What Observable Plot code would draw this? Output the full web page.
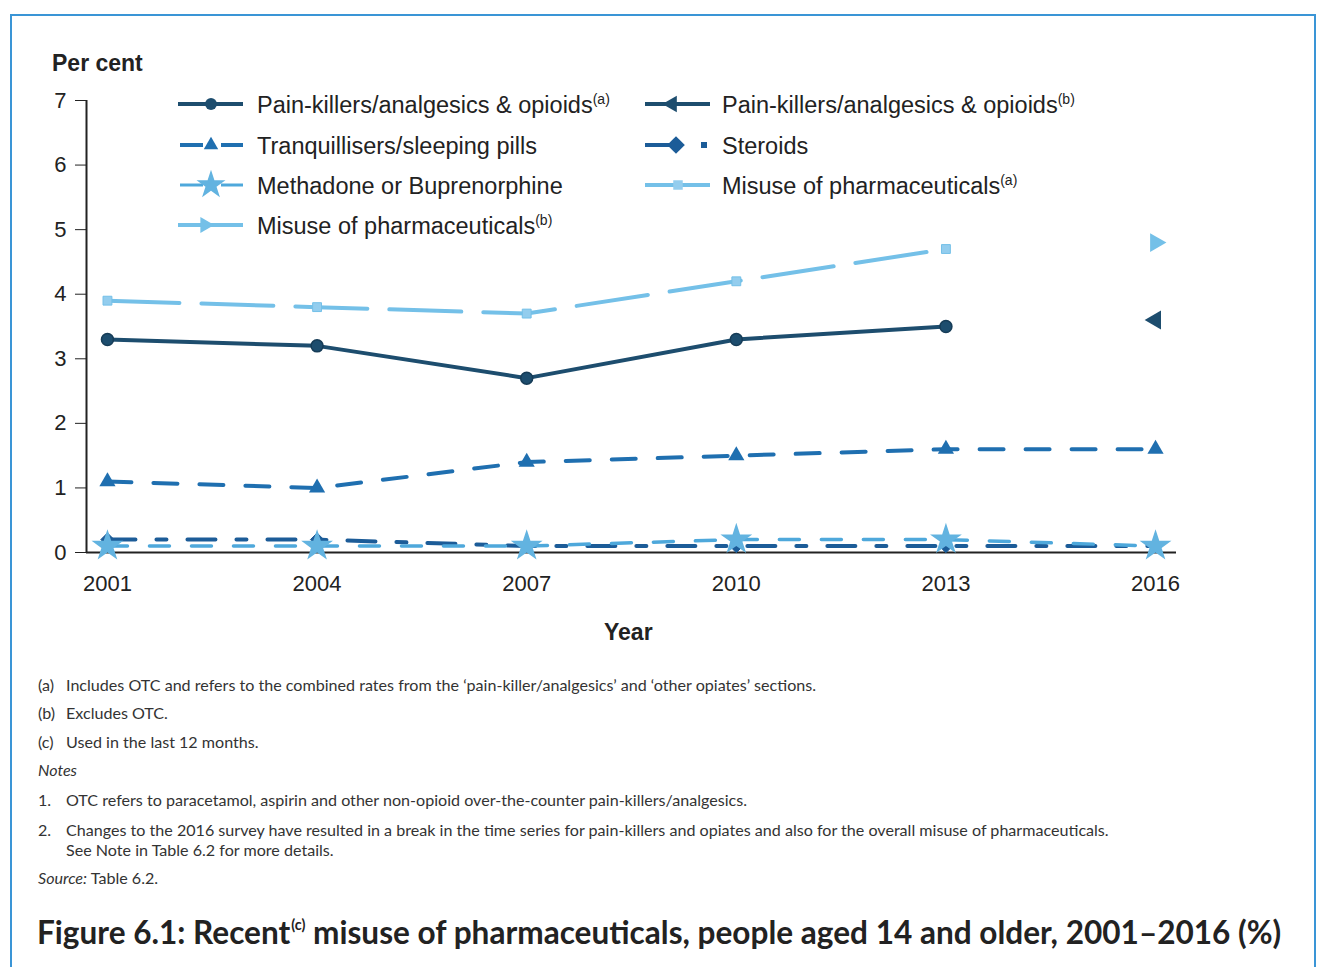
<!DOCTYPE html>
<html>
<head>
<meta charset="utf-8">
<script src="https://cdn.jsdelivr.net/npm/d3@7"></script>
<script src="https://cdn.jsdelivr.net/npm/@observablehq/plot@0.6"></script>
<style>
  html, body { margin: 0; padding: 0; background: #fff; }
  #page { position: relative; width: 1323px; height: 967px; overflow: hidden; background: #fff; }
  #border { position: absolute; left: 10px; top: 14px; width: 1306px; height: 1000px;
            border: 2px solid #3a95d6; box-sizing: border-box; }
  #chart { position: absolute; left: 0; top: 0; }
  #legend { position: absolute; left: 0; top: 0; pointer-events: none; }
  .lab { position: absolute; font-family: "Liberation Sans", Arial, sans-serif; font-weight: bold; color: #222; font-size: 23px; }
  .fn { position: absolute; left: 38px; font-family: Lato, "Open Sans", sans-serif; font-size: 16.1px; color: #333; line-height: 20px; white-space: nowrap; }
  .fn .k { display: inline-block; width: 28px; }
  .fn i { font-style: italic; }
  #title { position: absolute; left: 0; top: 895px; }
</style>
</head>
<body>
<div id="page">
  <div id="border"></div>
  <div id="chart"></div>
  <svg id="legend" width="1323" height="260"></svg>
  <div class="lab" style="left:52px; top:50px;">Per cent</div>
  <div class="lab" style="left:604px; top:619px;">Year</div>
  <div class="fn" style="top:675px;"><span class="k">(a)</span>Includes OTC and refers to the combined rates from the ‘pain-killer/analgesics’ and ‘other opiates’ sections.</div>
  <div class="fn" style="top:703px;"><span class="k">(b)</span>Excludes OTC.</div>
  <div class="fn" style="top:732px;"><span class="k">(c)</span>Used in the last 12 months.</div>
  <div class="fn" style="top:760px;"><i>Notes</i></div>
  <div class="fn" style="top:790px;"><span class="k">1.</span>OTC refers to paracetamol, aspirin and other non-opioid over-the-counter pain-killers/analgesics.</div>
  <div class="fn" style="top:820px;"><span class="k">2.</span>Changes to the 2016 survey have resulted in a break in the time series for pain-killers and opiates and also for the overall misuse of pharmaceuticals.</div>
  <div class="fn" style="top:840px;"><span class="k"></span>See Note in Table 6.2 for more details.</div>
  <div class="fn" style="top:868px;"><i>Source:</i> Table 6.2.</div>
  <svg id="title" width="1323" height="70">
    <g id="titleG" transform="translate(37,0)">
      <text id="titleT" x="0" y="49" font-family="Lato, 'Open Sans', sans-serif" font-weight="bold" font-size="33" fill="#222" xml:space="preserve">Figure 6.1: Recent<tspan font-size="15" dx="1" dy="-14">(c)</tspan><tspan dy="14"> misuse of pharmaceuticals, people aged 14 and older, 2001–2016 (%)</tspan></text>
    </g>
  </svg>
</div>
<script>
// ---- data ----
const years = [2001, 2004, 2007, 2010, 2013, 2016];
const painKillersA   = [3.3, 3.2, 2.7, 3.3, 3.5, null];
const painKillersB   = [null, null, null, null, null, 3.6];
const tranquillisers = [1.1, 1.0, 1.4, 1.5, 1.6, 1.6];
const steroids       = [0.2, 0.2, 0.1, 0.1, 0.1, 0.1];
const methadone      = [0.1, 0.1, 0.1, 0.2, 0.2, 0.1];
const misuseA        = [3.9, 3.8, 3.7, 4.2, 4.7, null];
const misuseB        = [null, null, null, null, null, 4.8];
const yTicks = [0, 1, 2, 3, 4, 5, 6, 7];

// ---- styles ----
const C = {
  pain: "#1d4d6e", painStroke: "#163c57",
  tranq: "#1f6fb0",
  ster: "#1c5c98",
  meth: "#4ea8db", methFill: "#62b3e0",
  mis: "#74c0e8", misFill: "#93cdee"
};

const rows = (vals) => years.map((year, i) => ({year, value: vals[i]})).filter(d => d.value != null);

const xDomain = [2000.7, 2016.3];

const chart = Plot.plot({
  width: 1323,
  height: 680,
  marginLeft: 86,
  marginRight: 147,
  marginTop: 100,
  marginBottom: 128,
  style: {fontFamily: "'Liberation Sans', Arial, sans-serif", fontSize: "22px", color: "#222", background: "transparent"},
  x: {domain: xDomain, ticks: years, tickFormat: d => String(d), tickSize: 0, tickPadding: 23, label: null},
  y: {domain: [0, 7], ticks: yTicks, tickFormat: d => String(d), tickSize: 11, tickPadding: 9, label: null},
  marks: [
    Plot.ruleX([xDomain[0]], {y1: 0, y2: 7, stroke: "#222", strokeWidth: 2}),
    Plot.line(rows(steroids), {x: "year", y: "value", stroke: C.ster, strokeWidth: 4, strokeDasharray: "28,21,10,21"}),
    Plot.line(rows(methadone), {x: "year", y: "value", stroke: C.meth, strokeWidth: 3.5, strokeDasharray: "20,22"}),
    Plot.ruleY([0], {stroke: "#222", strokeWidth: 2}),
    Plot.line(rows(tranquillisers), {x: "year", y: "value", stroke: C.tranq, strokeWidth: 4, strokeDasharray: "24,22"}),
    Plot.line(rows(misuseA), {x: "year", y: "value", stroke: C.mis, strokeWidth: 4, strokeDasharray: "72,22"}),
    Plot.line(rows(painKillersA), {x: "year", y: "value", stroke: C.pain, strokeWidth: 4}),
    Plot.dot(rows(steroids), {x: "year", y: "value", symbol: "diamond2", r: 6, fill: C.ster, stroke: C.ster, strokeWidth: 1}),
    Plot.dot(rows(methadone), {x: "year", y: "value", symbol: "star", r: 10, fill: C.methFill, stroke: "none"}),
    Plot.dot(rows(tranquillisers), {x: "year", y: "value", symbol: "triangle", r: 6, fill: C.tranq, stroke: "none"}),
    Plot.dot(rows(misuseA), {x: "year", y: "value", symbol: "square", r: 5, fill: C.misFill, stroke: C.mis, strokeWidth: 1}),
    Plot.dot(rows(misuseB), {x: "year", y: "value", symbol: "triangle", r: 7, rotate: 90, fill: C.mis, stroke: "none"}),
    Plot.dot(rows(painKillersA), {x: "year", y: "value", symbol: "circle", r: 6, fill: C.pain, stroke: C.painStroke, strokeWidth: 1.5}),
    Plot.dot(rows(painKillersB), {x: "year", y: "value", symbol: "triangle", r: 7, rotate: -90, fill: C.pain, stroke: "none"})
  ]
});
document.getElementById("chart").appendChild(chart);

// ---- legend ----
const legendItems = [
  {label: "Pain-killers/analgesics & opioids", sup: "(a)", col: 0, row: 0, stroke: C.pain, width: 4, dash: null, sym: d3.symbolCircle, size: 110, fill: C.pain, rot: 0},
  {label: "Tranquillisers/sleeping pills", sup: "", col: 0, row: 1, stroke: C.tranq, width: 4, dash: "23,8", sym: d3.symbolTriangle, size: 90, fill: C.tranq, rot: 0},
  {label: "Methadone or Buprenorphine", sup: "", col: 0, row: 2, stroke: C.meth, width: 3, dash: "20,10", sym: d3.symbolStar, size: 260, fill: C.methFill, rot: 0},
  {label: "Misuse of pharmaceuticals", sup: "(b)", col: 0, row: 3, stroke: C.mis, width: 4, dash: null, sym: d3.symbolTriangle, size: 110, fill: C.mis, rot: 90},
  {label: "Pain-killers/analgesics & opioids", sup: "(b)", col: 1, row: 0, stroke: C.pain, width: 4, dash: null, sym: d3.symbolTriangle, size: 120, fill: C.pain, rot: -90},
  {label: "Steroids", sup: "", col: 1, row: 1, stroke: C.ster, width: 4, dash: "steroid", sym: d3.symbolDiamond2, size: 200, fill: C.ster, rot: 0},
  {label: "Misuse of pharmaceuticals", sup: "(a)", col: 1, row: 2, stroke: C.mis, width: 4, dash: null, sym: d3.symbolSquare, size: 90, fill: C.misFill, rot: 0}
];
const colX = [178, 645];
const textX = [257, 722];
const rowY = [104, 145, 185, 225];
const lg = d3.select("#legend");
for (const it of legendItems) {
  const x0 = colX[it.col], y = rowY[it.row];
  const g = lg.append("g");
  let mx = x0 + 33;
  if (it.dash === "steroid") {
    mx = x0 + 31;
    g.append("line").attr("x1", x0).attr("x2", mx).attr("y1", y).attr("y2", y).attr("stroke", it.stroke).attr("stroke-width", it.width);
    g.append("rect").attr("x", x0 + 56).attr("y", y - 3).attr("width", 6).attr("height", 6).attr("fill", it.stroke);
  } else if (it.dash) {
    g.append("line").attr("x1", x0 + 2).attr("x2", x0 + 25).attr("y1", y).attr("y2", y).attr("stroke", it.stroke).attr("stroke-width", it.width);
    g.append("line").attr("x1", x0 + 43).attr("x2", x0 + 65).attr("y1", y).attr("y2", y).attr("stroke", it.stroke).attr("stroke-width", it.width);
  } else {
    if (it.rot === -90) mx = x0 + 27;
    if (it.rot === 90) mx = x0 + 27;
    g.append("line").attr("x1", x0).attr("x2", x0 + 65).attr("y1", y).attr("y2", y).attr("stroke", it.stroke).attr("stroke-width", it.width);
  }
  g.append("path").attr("d", d3.symbol(it.sym, it.size)()).attr("fill", it.fill)
    .attr("transform", `translate(${mx},${y}) rotate(${it.rot})`);
  const t = g.append("text").attr("x", textX[it.col]).attr("y", y + 8.5)
    .attr("font-family", "'Liberation Sans', Arial, sans-serif").attr("font-size", 23.5).attr("fill", "#222")
    .text(it.label);
  if (it.sup) t.append("tspan").attr("font-size", 14).attr("dy", -9).text(it.sup);
}

// ---- fit title width to the reference (37 → 1282) ----
const tt = document.getElementById("titleT");
const natural = tt.getBBox().width;
const sx = 1245 / natural;
document.getElementById("titleG").setAttribute("transform", `translate(37,0) scale(${sx},1)`);
</script>
</body>
</html>
